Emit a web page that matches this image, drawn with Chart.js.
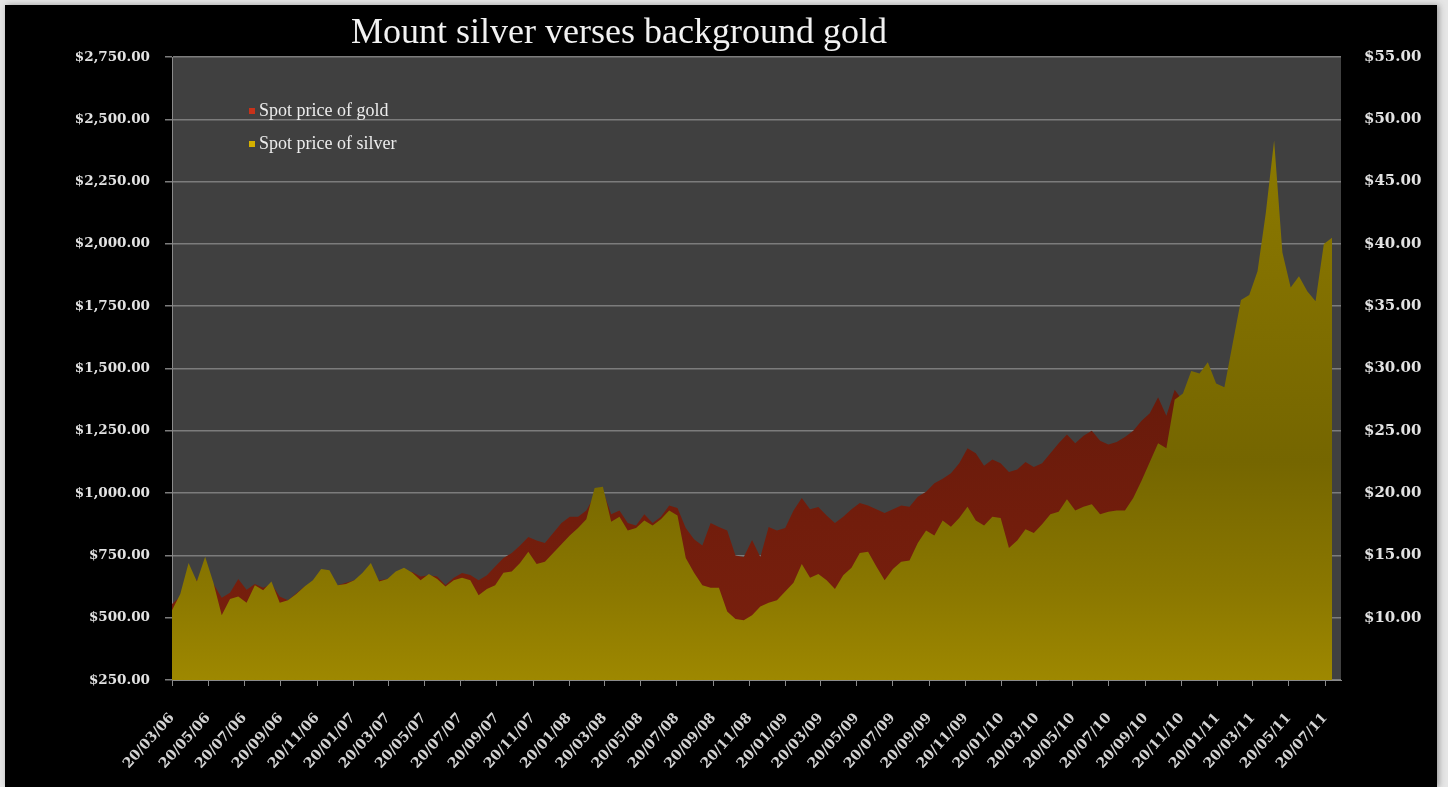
<!DOCTYPE html>
<html>
<head>
<meta charset="utf-8">
<script src="https://cdn.jsdelivr.net/npm/chart.js@4.4.1/dist/chart.umd.min.js"></script>
<style>
  html, body { margin: 0; padding: 0; background: #e6e6e6; }
  #wrap { position: absolute; left: 5px; top: 5px; width: 1432px; height: 782px; background: #000; box-shadow: 2px 0 6px #999; }
</style>
</head>
<body>
<div id="wrap"><canvas id="chart"></canvas></div>
<script>
// Data sampled every 14 days starting 20/03/06
const startDate = Date.UTC(2006, 2, 20);
const stepDays = 14;

// Spot price of gold (USD/oz)
const gold = [555, 585, 620, 650, 690, 635, 580, 600, 655, 612,
  635, 620, 635, 585, 570, 598, 625, 630, 640, 630,
  630, 640, 650, 665, 670, 650, 655, 675, 680, 683,
  665, 670, 665, 631, 660, 679, 671, 650, 670, 705,
  740, 760, 790, 824, 810, 800, 840, 880, 905, 905,
  930, 990, 1010, 915, 930, 880, 870, 915, 880, 905,
  950, 940, 860, 815, 790, 880, 864, 850, 750, 744,
  812, 744, 864, 850, 860, 930, 980, 935, 944, 910,
  880, 905, 935, 960, 950, 935, 920, 935, 950, 945,
  985, 1005, 1040, 1058, 1080, 1120, 1180, 1160, 1110, 1135,
  1120, 1085, 1095, 1125, 1105, 1120, 1160, 1200, 1235, 1200,
  1230, 1250, 1210, 1195, 1205, 1225, 1250, 1290, 1320, 1385,
  1310, 1415, 1370, 1385, 1390, 1380, 1350, 1340, 1370, 1400,
  1420, 1430, 1470, 1510, 1500, 1490, 1520, 1530, 1500, 1590,
  1620];

// Spot price of silver (USD/oz)
const silver = [10.6, 11.9, 14.4, 12.9, 14.9, 12.8, 10.2, 11.5, 11.7, 11.2,
  12.6, 12.2, 12.9, 11.2, 11.4, 11.9, 12.5, 13.0, 13.9, 13.8,
  12.6, 12.7, 13.0, 13.6, 14.4, 12.9, 13.1, 13.7, 14.0, 13.6,
  13.0, 13.5, 13.1, 12.5, 13.0, 13.2, 13.0, 11.8, 12.3, 12.6,
  13.6, 13.7, 14.4, 15.3, 14.3, 14.5, 15.2, 15.9, 16.6, 17.2,
  17.9, 20.4, 20.5, 17.7, 18.1, 17.0, 17.2, 17.8, 17.4, 17.9,
  18.6, 18.2, 14.8, 13.6, 12.6, 12.4, 12.4, 10.5, 9.9, 9.8,
  10.2, 10.9, 11.2, 11.4, 12.1, 12.8, 14.3, 13.2, 13.5, 13.0,
  12.3, 13.4, 14.0, 15.2, 15.3, 14.1, 13.0, 13.9, 14.5, 14.6,
  16.0, 17.0, 16.6, 17.8, 17.3, 18.0, 18.9, 17.8, 17.4, 18.1,
  18.0, 15.6, 16.2, 17.1, 16.8, 17.5, 18.3, 18.5, 19.5, 18.6,
  18.9, 19.1, 18.3, 18.5, 18.6, 18.6, 19.6, 21.0, 22.5, 24.0,
  23.6, 27.5, 28.0, 29.8, 29.6, 30.5, 28.8, 28.5, 32.0, 35.5,
  35.9, 37.8, 42.5, 48.3, 39.3, 36.5, 37.4, 36.2, 35.4, 40.0,
  40.5];

// x axis tick labels
const tickLabels = ['20/03/06', '20/05/06', '20/07/06', '20/09/06', '20/11/06',
  '20/01/07', '20/03/07', '20/05/07', '20/07/07', '20/09/07', '20/11/07',
  '20/01/08', '20/03/08', '20/05/08', '20/07/08', '20/09/08', '20/11/08',
  '20/01/09', '20/03/09', '20/05/09', '20/07/09', '20/09/09', '20/11/09',
  '20/01/10', '20/03/10', '20/05/10', '20/07/10', '20/09/10', '20/11/10',
  '20/01/11', '20/03/11', '20/05/11', '20/07/11'];

function dayOf(label) {
  const [d, m, y] = label.split('/').map(Number);
  return Math.round((Date.UTC(2000 + y, m - 1, d) - startDate) / 86400000);
}

const goldPoints = gold.map((v, i) => ({ x: i * stepDays, y: v }));
const silverPoints = silver.map((v, i) => ({ x: i * stepDays, y: v }));

function money(v) {
  return '$' + v.toLocaleString('en-US', { minimumFractionDigits: 2, maximumFractionDigits: 2 });
}

function goldFill(c) {
  const a = c.chart.chartArea;
  if (!a) return '#6a1a0b';
  const g = c.chart.ctx.createLinearGradient(0, a.top, 0, a.bottom);
  g.addColorStop(0, '#7e200d');
  g.addColorStop(0.5, '#661a0b');
  g.addColorStop(0.75, '#721d0c');
  g.addColorStop(1, '#7a200e');
  return g;
}

function silverFill(c) {
  const a = c.chart.chartArea;
  if (!a) return '#857300';
  const g = c.chart.ctx.createLinearGradient(0, a.top, 0, a.bottom);
  g.addColorStop(0, '#917f00');
  g.addColorStop(0.35, '#837100');
  g.addColorStop(0.65, '#756600');
  g.addColorStop(0.85, '#8a7700');
  g.addColorStop(1, '#9e8800');
  return g;
}

const plotBg = {
  id: 'plotBg',
  beforeDraw(chart) {
    const { ctx, chartArea: a } = chart;
    ctx.save();
    ctx.fillStyle = '#404040';
    ctx.fillRect(a.left, a.top, a.right - a.left, a.bottom - a.top);
    ctx.restore();
  }
};

const titleAndLegend = {
  id: 'titleAndLegend',
  afterDraw(chart) {
    const { ctx, chartArea: a } = chart;
    ctx.save();
    ctx.fillStyle = '#f2f2f2';
    ctx.font = '36px "Liberation Serif"';
    ctx.textAlign = 'center';
    ctx.textBaseline = 'alphabetic';
    ctx.fillText('Mount silver verses background gold', 614, 38);

    const swatch = ['#c8321a', '#d4b000'];
    ctx.font = '18px "Liberation Serif"';
    ctx.textAlign = 'left';
    ctx.textBaseline = 'middle';
    chart.data.datasets.forEach((ds, i) => {
      const y = a.top + 54 + i * 33;
      ctx.fillStyle = swatch[i];
      ctx.fillRect(a.left + 77, y - 3, 6, 6);
      ctx.fillStyle = '#ececec';
      ctx.fillText(ds.label, a.left + 87, y);
    });
    ctx.restore();
  }
};

const leftFont = { family: '"DejaVu Serif"', size: 13.5, weight: 'bold' };
const rightFont = { family: '"DejaVu Serif"', size: 15, weight: 'bold' };
const dateFont = { family: '"DejaVu Serif"', size: 14, weight: 'bold' };

new Chart(document.getElementById('chart'), {
  type: 'line',
  data: {
    datasets: [{
      label: 'Spot price of gold',
      data: goldPoints,
      yAxisID: 'y',
      order: 2,
      fill: 'start',
      backgroundColor: goldFill,
      borderWidth: 0,
      pointRadius: 0,
      tension: 0
    }, {
      label: 'Spot price of silver',
      data: silverPoints,
      yAxisID: 'y1',
      order: 1,
      fill: 'start',
      backgroundColor: silverFill,
      borderWidth: 0,
      pointRadius: 0,
      tension: 0
    }]
  },
  options: {
    responsive: true,
    maintainAspectRatio: false,
    animation: false,
    layout: { padding: { top: 52, left: 0, right: 0, bottom: 0 } },
    plugins: {
      legend: { display: false },
      tooltip: { enabled: false },
      title: { display: false }
    },
    scales: {
      x: {
        type: 'linear',
        min: 0,
        max: 1975,
        afterBuildTicks: (s) => { s.ticks = tickLabels.map(l => ({ value: dayOf(l) })); },
        afterFit: (s) => { s.height = 107; },
        ticks: {
          autoSkip: false,
          minRotation: 48,
          maxRotation: 48,
          padding: 24,
          color: '#d2d2d2',
          font: dateFont,
          callback: (v, i) => tickLabels[i]
        },
        grid: { drawOnChartArea: false, color: '#8a8a8a', tickLength: 6 },
        border: { color: '#8a8a8a' }
      },
      y: {
        position: 'left',
        min: 250,
        max: 2750,
        afterFit: (s) => { s.width = 167; },
        ticks: { stepSize: 250, padding: 15, color: '#e2e2e2', font: leftFont, callback: (v) => money(v) },
        grid: { color: '#7c7c7c', lineWidth: 1.5, tickLength: 7 },
        border: { color: '#8a8a8a' }
      },
      y1: {
        position: 'right',
        min: 5,
        max: 55,
        afterFit: (s) => { s.width = 96; },
        ticks: { stepSize: 5, padding: 23, color: '#e2e2e2', font: rightFont, callback: (v) => v === 5 ? '' : money(v) },
        grid: { display: false, drawTicks: false },
        border: { display: false }
      }
    }
  },
  plugins: [plotBg, titleAndLegend]
});
</script>
</body>
</html>
